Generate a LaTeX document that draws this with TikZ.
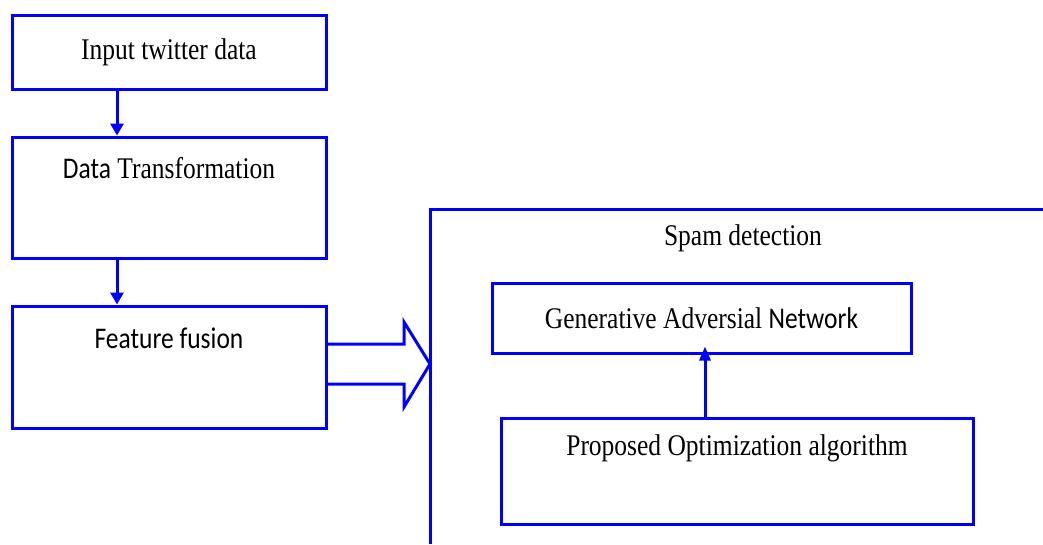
\documentclass[tikz,border=0pt]{standalone}
\usepackage{fontspec}
\setmainfont[FakeStretch=0.85]{Liberation Serif}
\newfontfamily\calib[FakeStretch=0.85]{Carlito}
\usetikzlibrary{arrows.meta}

\tikzset{
  box/.style={draw=blue, line width=3pt, minimum width=314pt},
  arr/.style={draw=blue, line width=3pt, -{Triangle[length=12pt,width=13pt]}},
  txt/.style={font=\fontsize{30}{32}\selectfont, inner sep=0pt}
}

\begin{document}
\begin{tikzpicture}[x=1pt, y=-1pt]
            \useasboundingbox (0,0) rectangle (1043,544);

            % Input stage
            \node[box, minimum height=74pt, txt] (input) at (169,52) {Input twitter data};

            % Transformation stage
            \node[box, minimum height=121pt] (transform) at (169,197.5) {};
            \node[txt] (transformtxt) at (169,168) {{\calib Data} Transformation};
            \draw[arr] ([xshift=-52pt]input.south) -- ([xshift=-52pt]transform.north);

            % Fusion stage
            \node[box, minimum height=122pt] (fusion) at (169,367) {};
            \node[txt] (fusiontxt) at (169,338) {\calib Feature fusion};
            \draw[arr] ([xshift=-52pt]transform.south) -- ([xshift=-52pt]fusion.north);

            % Block arrow into spam detection
            \draw[blue, line width=3pt, line join=miter]
              (fusion.east |- 0,344) -- (404,344) -- (404,322) -- (430,364)
              -- (404,407) -- (404,384) -- (fusion.east |- 0,384);

            % Spam detection frame
            \draw[blue, line width=3pt] (1043,209) -- (430,209) -- (430,544);
            \node[txt] (spam) at (743,238) {Spam detection};

            % Inner stages
            \node[box, minimum width=419pt, minimum height=70pt, txt] (gan) at (701.5,318)
              {Generative Adversial {\calib Network}};
            \node[box, minimum width=472pt, minimum height=106pt] (opt) at (737,471) {};
            \node[txt] (opttxt) at (737,448) {Proposed Optimization algorithm};
            \draw[blue, line width=3pt, -{Triangle[length=14pt,width=11pt]}]
              (opt.north -| 705,0) -- ([yshift=8pt]gan.south -| 705,0);
\end{tikzpicture}
\end{document}
